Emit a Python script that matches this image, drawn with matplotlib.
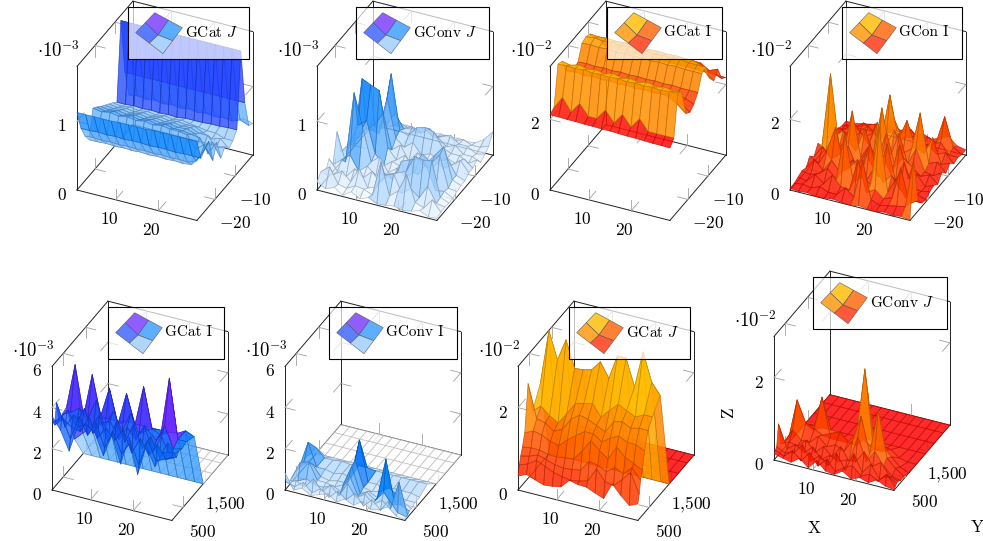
import numpy as np
import matplotlib
matplotlib.use('Agg')
import matplotlib.pyplot as plt
from matplotlib.colors import LinearSegmentedColormap, Normalize
from matplotlib.patches import Polygon, Rectangle
from mpl_toolkits.mplot3d import proj3d

plt.rcParams['font.family'] = ['cmr10', 'DejaVu Serif']
plt.rcParams['mathtext.fontset'] = 'cm'
plt.rcParams['axes.formatter.use_mathtext'] = True

W, H = 983, 541

x_grid = [1, 3, 5, 7, 9, 11, 13, 15, 17, 19, 21, 23, 25, 27, 29]
y_top = [-29, -27, -25, -23, -21, -19, -17, -15, -13, -11, -9, -7, -5, -3, -1]
y_bottom = [0, 60, 120, 200, 300, 450, 650, 1000, 1400, 1800, 2200, 2500]

# top row, rows go front (first) to back (last)
z_cat_j_top = [
    [1.13, 1.13, 1.13, 1.13, 1.13, 1.14, 1.14, 1.14, 1.14, 1.15, 1.15, 1.15, 1.15, 1.15, 1.15],
    [.83, .83, .84, .83, .84, .83, .84, .84, .83, .84, .84, .83, .84, .84, .84],
    [.65, .66, .65, .66, .65, .66, .65, .66, .65, .66, .65, .66, .65, .7, .9],
    [.53, .53, .54, .53, .54, .53, .54, .53, .54, .53, .54, .53, .55, .7, .95],
    [.92, .90, .92, .90, .92, .90, .92, .90, .92, .90, .90, .88, .7, .8, .6],
    [.87, .84, .87, .84, .87, .84, .87, .84, .87, .84, .84, .82, .8, .6, .8],
    [.81, .79, .81, .79, .81, .79, .81, .79, .81, .79, .80, .76, .62, .7, .5],
    [.76, .74, .76, .74, .76, .74, .76, .74, .76, .74, .75, .70, .7, .55, .6],
    [.71, .69, .71, .69, .71, .69, .71, .69, .71, .69, .70, .64, .58, .62, .5],
    [.66, .64, .66, .64, .66, .64, .66, .64, .66, .64, .62, .6, .6, .55, .55],
    [.60, .60, .61, .60, .61, .60, .61, .60, .62, .62, .62, .63, .63, .64, .64],
    [1.72, 1.72, 1.72, 1.72, 1.72, 1.72, 1.72, 1.72, 1.72, 1.72, 1.72, 1.72, 1.72, 1.72, 1.72],
    [.90, .90, .90, .90, .90, .90, .90, .90, .90, .90, .90, .90, .90, .90, .90],
    [.50, .52, .50, .52, .50, .52, .50, .52, .50, .52, .50, .52, .50, .55, .50],
    [.45, .45, .46, .45, .46, .45, .46, .45, .46, .45, .46, .45, .46, .50, .46],
]
z_conv_j_top = [
    [.12, .05, .1, .02, .1, .03, .08, .02, .03, .05, .02, .04, .08, .02, .03],
    [.2, .3, .08, .05, .12, .1, .05, .56, .1, .2, .47, .1, .05, .2, .05],
    [.1, .12, .2, .08, .3, .05, .1, .3, .35, .1, .2, .1, .3, .08, .06],
    [.25, .1, .05, .2, .1, .22, .1, .25, .3, .35, .6, .58, .6, .1, .05],
    [.1, .2, .3, .1, .2, .1, .15, .1, .4, .45, .5, .4, .1, .12, .05],
    [.51, .1, 1.14, .67, .2, .3, .1, .2, .1, .2, .5, .4, .55, .1, .08],
    [.15, .3, .6, .7, .25, .1, .2, .15, .25, .1, .3, .45, .6, .15, .1],
    [.1, .2, 1.21, 1.15, 1.10, .3, .15, .25, .1, .2, .12, .3, .35, .15, .1],
    [.15, .25, .4, .5, .7, .2, .3, .1, .25, .15, .2, .12, .2, .3, .15],
    [.1, .2, .35, .3, .85, .3, .2, .3, .15, .2, .15, .2, .15, .25, .15],
    [.15, .2, .3, .4, 1.14, .35, .3, .45, .48, .45, .25, .2, .2, .12, .2],
    [.1, .15, .2, .3, .5, .3, .35, .3, .4, .3, .2, .25, .15, .15, .1],
    [.1, .12, .15, .2, .3, .25, .2, .3, .2, .25, .3, .2, .2, .12, .15],
    [.05, .1, .12, .15, .15, .2, .15, .2, .15, .2, .15, .2, .15, .15, .2],
    [.05, .08, .1, .1, .12, .1, .15, .1, .12, .1, .12, .1, .12, .2, .34],
]
z_cat_i_top = [
    [2.13, 2.13, 2.12, 2.12, 2.11, 2.11, 2.10, 2.10, 2.09, 2.08, 2.08, 2.07, 2.06, 2.06, 2.05],
    [2.2, 2.55, 2.2, 2.5, 2.2, 2.2, 2.5, 2.2, 2.5, 2.2, 2.5, 2.2, 2.2, 2.2, 2.2],
    [3.3, 3.32, 3.3, 3.33, 3.3, 3.32, 3.3, 3.33, 3.3, 3.32, 3.3, 3.33, 3.3, 3.33, 3.34],
    [3.25, 3.2, 3.27, 3.2, 3.25, 3.2, 3.27, 3.2, 3.25, 3.2, 3.27, 3.2, 3.25, 3.2, 3.22],
    [2.85, 2.9, 2.85, 2.9, 2.85, 2.9, 2.85, 2.9, 2.85, 2.9, 2.85, 2.9, 2.85, 2.7, 2.5],
    [2.7, 2.72, 2.7, 2.72, 2.7, 2.72, 2.7, 2.72, 2.7, 2.72, 2.7, 2.72, 2.7, 2.6, 2.4],
    [2.65, 2.66, 2.65, 2.66, 2.65, 2.66, 2.65, 2.66, 2.65, 2.66, 2.65, 2.66, 2.65, 2.6, 2.5],
    [2.7, 2.72, 2.7, 2.72, 2.7, 2.72, 2.7, 2.72, 2.7, 2.72, 2.7, 2.72, 2.7, 2.7, 2.7],
    [3.1, 3.12, 3.1, 3.12, 3.1, 3.12, 3.1, 3.12, 3.1, 3.12, 3.1, 3.12, 3.1, 3.1, 3.1],
    [3.15, 3.18, 3.15, 3.18, 3.15, 3.18, 3.15, 3.18, 3.15, 3.18, 3.15, 3.18, 3.15, 3.15, 3.15],
    [3.1, 3.08, 3.1, 3.08, 3.1, 3.08, 3.1, 3.08, 3.1, 3.08, 3.1, 3.08, 3.1, 3.0, 2.7],
    [2.85, 2.85, 2.86, 2.85, 2.86, 2.85, 2.86, 2.85, 2.86, 2.85, 2.86, 2.85, 2.8, 2.7, 2.5],
    [2.75, 2.76, 2.75, 2.76, 2.75, 2.76, 2.75, 2.76, 2.75, 2.76, 2.75, 2.76, 2.75, 2.6, 2.7],
    [2.45, 2.45, 2.46, 2.45, 2.46, 2.45, 2.46, 2.45, 2.46, 2.45, 2.46, 2.45, 2.46, 2.4, 2.3],
    [2.2, 2.2, 2.21, 2.2, 2.21, 2.2, 2.21, 2.2, 2.21, 2.2, 2.21, 2.2, 2.21, 2.2, 2.2],
]
z_con_i_top = [
    [.05, .02, .05, .0, .02, .05, .02, .0, .05, .02, .0, .05, .02, .05, .0],
    [.05, .1, .05, .15, .05, .05, .3, .1, 1.2, .15, .05, .1, .15, .2, 1.58],
    [.1, .05, .3, .1, .4, .15, .1, 1.0, .15, .3, .1, .2, 1.1, .15, .3],
    [.15, .1, .2, .4, .15, 1.5, .2, .4, .25, 1.95, .15, .6, .15, .1, .1],
    [.1, .4, .15, .5, .2, .4, .7, .15, .6, .25, .5, .15, .05, .15, .05],
    [.3, .15, .6, 1.3, .2, .5, .15, 1.1, .2, 1.2, .2, .8, .15, .1, .15],
    [.15, .5, .2, .4, .7, .15, .6, .25, .7, .2, 1.1, .2, .4, .1, .2],
    [.4, .2, .7, .3, 1.56, .3, .7, .4, 1.2, .3, .6, .4, .2, .3, .1],
    [.2, 2.3, .3, .5, .3, 1.0, .3, 1.7, .4, 1.1, .3, .8, .2, .15, .3],
    [.3, .4, .6, .4, .7, .4, 1.1, .5, 1.0, .4, .6, 1.67, .3, .4, .15],
    [.2, .5, .4, .7, .4, .6, .5, 1.8, .6, 1.2, .5, .4, .9, .2, .3],
    [.15, .3, .5, .4, .6, .4, .7, 1.0, .5, .6, .4, .5, .3, .4, .15],
    [.15, .2, .3, .5, .3, .5, .4, .6, .4, .5, .3, .4, .5, .2, .2],
    [.1, .15, .2, .3, .4, .3, .4, .3, .5, .3, .4, .3, 1.1, .3, .15],
    [.1, .1, .15, .2, .2, .3, .2, .3, .2, .3, .2, .3, .4, .2, .15],
]

# bottom row
z_cat_i_bot = [
    [3.6, 3.0, 2.1, 3.4, 3.6, 3.3, 2.3, 3.4, 2.1, 3.5, 1.8, 3.3, 2.4, 3.2, 3.3],
    [3.2, 3.6, 2.6, 3.8, 3.0, 3.7, 2.6, 3.5, 2.5, 3.2, 2.2, 3.5, 2.6, 2.8, 3.0],
    [3.0, 3.4, 3.1, 3.0, 3.8, 2.9, 3.5, 3.0, 3.6, 2.6, 3.4, 2.7, 3.3, 2.7, 2.9],
    [4.0, 2.9, 3.6, 3.3, 3.2, 3.9, 2.7, 3.8, 2.9, 3.9, 2.8, 3.5, 2.6, 3.4, 2.8],
    [3.0, 3.6, 3.0, 3.9, 2.8, 3.4, 3.6, 2.8, 3.5, 3.0, 3.8, 2.6, 3.5, 2.6, 3.0],
    [3.1, 3.3, 3.6, 3.2, 4.2, 3.0, 3.9, 3.0, 4.0, 3.1, 3.4, 3.0, 3.8, 2.8, 2.9],
    [3.2, 5.37, 3.0, 5.1, 3.2, 4.65, 3.0, 4.6, 3.2, 5.15, 3.2, 3.0, 5.87, 3.0, 3.0],
    [1.2, 1.6, 2.0, 2.5, 2.6, 2.6, 2.7, 2.7, 2.7, 2.7, 2.7, 2.7, 2.75, 2.98, 2.8],
    [0, 0, 0, 0, 0, 0, 0, 0, 0, 0, 0, 0, 0, 0, 0],
    [0, 0, 0, 0, 0, 0, 0, 0, 0, 0, 0, 0, 0, 0, 0],
    [0, 0, 0, 0, 0, 0, 0, 0, 0, 0, 0, 0, 0, 0, 0],
    [0, 0, 0, 0, 0, 0, 0, 0, 0, 0, 0, 0, 0, 0, 0],
]
z_conv_i_bot = [
    [.85, .1, .3, .05, .2, .35, .05, .3, .1, .4, .1, .2, .45, .1, .05],
    [.3, .2, .5, .1, .4, .1, .5, .2, .6, .1, .5, .1, .7, .2, .1],
    [.2, .4, .2, .7, .2, .6, .2, .9, .3, .6, .2, .5, .2, 1.6, .1],
    [.2, .3, .5, .3, .3, .5, .3, 1.2, .3, .6, .3, .8, .3, .4, .2],
    [.2, 1.07, 1.19, .4, .4, .3, .5, 1.5, .3, .5, .3, 2.28, .3, .4, .2],
    [.3, .8, .9, .4, .3, .4, .4, 1.6, .4, .3, .4, .7, .4, .3, .3],
    [.3, 1.6, .5, .5, .4, .5, .4, 2.34, .4, .4, .3, .4, .4, .4, .3],
    [.4, .9, .5, .5, .55, .5, .55, .55, .5, .5, .5, .5, .5, .5, .5],
    [0, 0, 0, 0, 0, 0, 0, 0, 0, 0, 0, 0, 0, 0, 0],
    [0, 0, 0, 0, 0, 0, 0, 0, 0, 0, 0, 0, 0, 0, 0],
    [0, 0, 0, 0, 0, 0, 0, 0, 0, 0, 0, 0, 0, 0, 0],
    [0, 0, 0, 0, 0, 0, 0, 0, 0, 0, 0, 0, 0, 0, 0],
]
z_cat_j_bot = [
    [.34, .43, .35, .28, .3, .34, .55, .5, .49, .4, .32, .73, .5, .31, .4],
    [.57, .65, .79, .7, .6, .55, .51, .55, .61, .95, .7, .65, .85, 1.08, .6],
    [.75, .8, .88, .82, .75, .72, .74, .78, 1.05, 1.0, .9, 1.05, .95, 1.15, .9],
    [.92, .95, .95, .9, .89, .92, .95, 1.2, 1.5, 1.3, 1.16, 1.5, 1.3, 1.2, 1.1],
    [1.2, 1.3, 1.25, 1.15, 1.1, 1.3, 1.45, 1.6, 1.6, 1.45, 1.6, 1.7, 1.6, 1.6, 1.5],
    [2.3, 1.5, 1.45, 1.3, 1.4, 1.7, 1.85, 1.8, 1.7, 1.6, 1.9, 1.95, 1.85, 1.9, 1.9],
    [1.5, 1.68, 1.5, 1.38, 1.65, 1.95, 2.0, 2.06, 1.78, 2.0, 2.2, 2.1, 2.0, 2.1, 2.1],
    [1.96, 3.29, 2.63, 3.17, 2.53, 2.55, 2.6, 2.85, 2.5, 3.1, 3.1, 2.45, 3.35, 2.67, 2.4],
    [0, 0, 0, 0, 0, 0, 0, 0, 0, 0, 0, 0, 0, 0, 0],
    [0, 0, 0, 0, 0, 0, 0, 0, 0, 0, 0, 0, 0, 0, 0],
    [0, 0, 0, 0, 0, 0, 0, 0, 0, 0, 0, 0, 0, 0, 0],
    [0, 0, 0, 0, 0, 0, 0, 0, 0, 0, 0, 0, 0, 0, 0],
]
z_conv_j_bot = [
    [.15, .1, .05, .2, .02, .25, .05, .02, .15, .02, .1, .03, .15, .05, .02],
    [.2, .1, .3, .1, .35, .08, .3, .05, .2, .3, .1, .2, .08, .3, .05],
    [.25, .15, .2, .45, .1, .3, .1, .45, .1, .55, .15, .4, .1, .2, .1],
    [.75, .2, .35, .2, .4, .15, .3, .2, .3, .3, .6, .3, .45, .15, .1],
    [.2, .3, .25, .45, .2, .4, .2, .5, .2, .85, .3, .6, .3, .1, .05],
    [.15, .5, .3, .3, .5, .3, .4, .3, .6, 1.25, .4, 1.5, .4, .2, .05],
    [.1, 1.1, .6, .5, .4, .5, .58, .4, .7, .5, .4, .5, .3, .1, .02],
    [0, .3, .2, 1.05, .1, .1, .1, .1, 2.0, .1, .1, .2, .05, 0, 0],
    [0, 0, 0, 0, 0, 0, 0, 0, 0, 0, 0, 0, 0, 0, 0],
    [0, 0, 0, 0, 0, 0, 0, 0, 0, 0, 0, 0, 0, 0, 0],
    [0, 0, 0, 0, 0, 0, 0, 0, 0, 0, 0, 0, 0, 0, 0],
    [0, 0, 0, 0, 0, 0, 0, 0, 0, 0, 0, 0, 0, 0, 0],
]

titles = ['GCat $J$', 'GConv $J$', 'GCat I', 'GCon I', 'GCat I', 'GConv I', 'GCat $J$', 'GConv $J$']
surfaces = [z_cat_j_top, z_conv_j_top, z_cat_i_top, z_con_i_top,
            z_cat_i_bot, z_conv_i_bot, z_cat_j_bot, z_conv_j_bot]
exponents = [-3, -3, -2, -2, -3, -3, -2, -2]
z_limits = [1.8, 1.8, 3.5, 3.5, 6, 6, 3, 3]
z_ticks = [[0, 1], [0, 1], [0, 2], [0, 2], [0, 2, 4, 6], [0, 2, 4, 6], [0, 2], [0, 2]]
color_ranges = [(.3, 2.1), (0, 2.6), (2.3, 3.5), (0, 2.5), (0, 6), (0, 3.6), (0, 3.2), (0, 2.6)]

# left-bottom corner of each box and legend box, in picture pixels
corners = [(77, 190), (317, 190), (550, 190), (790, 190), (52, 490), (285, 490), (518, 490), (774, 460)]
legend_boxes = [(128, 7, 249, 59), (356, 7, 489, 59), (607, 7, 722, 59), (842, 7, 962, 59),
                (108, 307, 224, 359), (329, 307, 457, 359), (569, 307, 690, 359), (813, 277, 947, 329)]

blues = LinearSegmentedColormap.from_list('blues3d', [(0, (1, 1, 1)), (.45, (0, .5, 1)), (.65, (.12, .25, 1)),
                                                      (.85, (.45, .1, 1)), (1, (.5, .1, 1))])
oranges = LinearSegmentedColormap.from_list('oranges3d', [(0, (1, .03, .03)), (.25, (1, .22, 0)), (.5, (1, .45, 0)),
                                                          (.75, (1, .65, 0)), (1, (1, .8, 0))])
blue_icon = ['#8a55ff', '#5577ff', '#55aaff', '#aad4ff']
orange_icon = ['#ffc525', '#ffa52a', '#ff7a2a', '#ff5030']


def to_px(ax, x, y, z):
    px, py, _ = proj3d.proj_transform(x, y, z, ax.get_proj())
    sx, sy = ax.transData.transform((px, py))
    return sx, H - sy


def place_axes(ax, corner, xlim, ylim):
    # size the 3d axes so the x edge has the right length, then move it onto the corner
    size = 400
    ax.set_position([0, 0, size / W, size / H])
    p0 = to_px(ax, xlim[0], ylim[0], ax.get_zlim()[0])
    p1 = to_px(ax, xlim[1], ylim[0], ax.get_zlim()[0])
    size = size * 123.7 / np.hypot(p1[0] - p0[0], p1[1] - p0[1])
    ax.set_position([0, 0, size / W, size / H])
    p0 = to_px(ax, xlim[0], ylim[0], ax.get_zlim()[0])
    ax.set_position([(corner[0] - p0[0]) / W, (p0[1] - corner[1]) / H, size / W, size / H])


def draw_box(ax, xlim, ylim, zlim):
    x0, x1 = xlim
    y0, y1 = ylim
    z0, z1 = zlim
    edges = [((x0, x1), (y0, y0), (z0, z0)), ((x0, x1), (y1, y1), (z0, z0)), ((x0, x1), (y1, y1), (z1, z1)),
             ((x0, x0), (y0, y1), (z0, z0)), ((x1, x1), (y0, y1), (z0, z0)), ((x0, x0), (y0, y1), (z1, z1)),
             ((x0, x0), (y0, y0), (z0, z1)), ((x0, x0), (y1, y1), (z0, z1)), ((x1, x1), (y1, y1), (z0, z1))]
    for e in edges:
        ax.plot(*e, color='#222222', lw=.7, zorder=1, clip_on=False)


def draw_ticks(ax, xlim, ylim, zlim, xticks, yticks, zticks):
    x0, x1 = xlim
    y0, y1 = ylim
    z0, z1 = zlim
    dx = .085 * (x1 - x0)
    dy = .13 * (y1 - y0)
    dz = .09 * (z1 - z0)

    def tick(x, y, z, ox, oy, oz):
        ax.plot((x, x + ox), (y, y + oy), (z, z + oz), color='#a0a0a0', lw=.6, zorder=1, clip_on=False)

    for t in xticks:
        for y, z, sy, sz in [(y0, z0, 1, 1), (y1, z0, -1, 1), (y1, z1, -1, -1)]:
            tick(t, y, z, 0, sy * dy, 0)
            tick(t, y, z, 0, 0, sz * dz)
    for t in yticks:
        for x, z, sx, sz in [(x0, z0, 1, 1), (x1, z0, -1, 1), (x0, z1, 1, -1)]:
            tick(x, t, z, sx * dx, 0, 0)
            tick(x, t, z, 0, 0, sz * dz)
    for t in zticks:
        if t in (z0, z1):
            continue
        for x, y, sx, sy in [(x0, y0, 1, 1), (x0, y1, 1, -1), (x1, y1, -1, -1)]:
            tick(x, y, t, sx * dx, 0, 0)
            tick(x, y, t, 0, sy * dy, 0)


fig = plt.figure(figsize=(W / 100, H / 100), dpi=100)
overlay = fig.add_axes([0, 0, 1, 1], zorder=10)
overlay.set_xlim(0, W)
overlay.set_ylim(H, 0)
overlay.axis('off')
overlay.patch.set_alpha(0)

tick_size = 12.5
legend_size = 11

for i in range(8):
    top = i < 4
    y_vals = y_top if top else y_bottom
    xlim = (x_grid[0], x_grid[-1])
    ylim = (y_vals[0], y_vals[-1])
    zlim = (0, z_limits[i])
    cmap = blues if i in (0, 1, 4, 5) else oranges
    alpha = .76 if cmap is blues else .86

    ax = fig.add_axes([0, 0, .4, .4], projection='3d', proj_type='ortho', computed_zorder=False)
    ax.patch.set_visible(False)
    ax.view_init(elev=33, azim=-65)
    ax.set_box_aspect((132, 132, 147), zoom=.4)
    ax.set_xlim(*xlim, view_margin=0)
    ax.set_ylim(*ylim, view_margin=0)
    ax.set_zlim(*zlim, view_margin=0)
    ax.set_axis_off()
    place_axes(ax, corners[i], xlim, ylim)

    Z = np.array(surfaces[i], dtype=float)
    X, Y = np.meshgrid(x_grid, y_vals)
    # colour of a cell leans towards its highest corner, spikes look too dull with the plain mean
    corners_z = np.stack([Z[:-1, :-1], Z[1:, :-1], Z[:-1, 1:], Z[1:, 1:]])
    cell = (corners_z.mean(axis=0) + corners_z.max(axis=0)) / 2
    face = cmap(Normalize(*color_ranges[i], clip=True)(cell))
    face[..., 3] = alpha
    edge = face.copy()
    edge[..., :3] *= .72
    edge[..., 3] = .8

    draw_box(ax, xlim, ylim, zlim)
    yticks = [-20, -10] if top else [500, 1500]
    draw_ticks(ax, xlim, ylim, zlim, [10, 20], yticks, z_ticks[i])
    surf = ax.plot_surface(X, Y, Z, facecolors=face, rstride=1, cstride=1, shade=False, linewidth=.5, zorder=2)
    surf.set_edgecolor(edge.reshape(-1, 4))
    surf.set_clip_on(False)

    # tick labels
    for t in [10, 20]:
        px, py = to_px(ax, t, ylim[0], 0)
        overlay.text(px - 6.7, py + 19, f'${t}$', ha='center', va='center', fontsize=tick_size)
    for t in yticks:
        px, py = to_px(ax, xlim[1], t, 0)
        label = f'${t}$' if t != 1500 else '$1{,}500$'
        overlay.text(px + 20, py + 24, label, ha='center', va='center', fontsize=tick_size)
    for t in z_ticks[i]:
        px, py = to_px(ax, xlim[0], ylim[0], t)
        overlay.text(px - 15, py + 5, f'${t}$', ha='center', va='center', fontsize=tick_size)
    px, py = to_px(ax, xlim[0], ylim[0], zlim[1])
    overlay.text(px - 19, py - 16, r'$\cdot 10^{%d}$' % exponents[i], ha='center', va='center', fontsize=tick_size + 1)

    # legend box with the little surface icon
    lx0, ly0, lx1, ly1 = legend_boxes[i]
    overlay.add_patch(Rectangle((lx0, ly0), lx1 - lx0, ly1 - ly0, fc=(1, 1, 1, .7), ec='black', lw=.8))
    cx, cy = lx0 + 30, ly0 + 28
    top_p = (lx0 + 26.7, ly0 + 5.7)
    left_p = (lx0 + 7.7, ly0 + 25.7)
    right_p = (lx0 + 54.3, ly0 + 20.7)
    bot_p = (lx0 + 35, ly0 + 46.7)
    mid = lambda a, b: ((a[0] + b[0]) / 2, (a[1] + b[1]) / 2)
    tl, tr, bl, br = mid(top_p, left_p), mid(top_p, right_p), mid(left_p, bot_p), mid(right_p, bot_p)
    icon = blue_icon if cmap is blues else orange_icon
    icon_quads = [[top_p, tr, (cx, cy), tl], [tl, (cx, cy), bl, left_p],
                  [tr, right_p, br, (cx, cy)], [(cx, cy), br, bot_p, bl]]
    for quad, col in zip(icon_quads, icon):
        overlay.add_patch(Polygon(quad, closed=True, fc=col, ec='#555555', lw=.4, alpha=.95))
    overlay.text(lx0 + 57, (ly0 + ly1) / 2 - .5, titles[i], ha='left', va='center', fontsize=legend_size)

overlay.text(814, 528, 'X', ha='center', va='center', fontsize=tick_size)
overlay.text(977, 527, 'Y', ha='center', va='center', fontsize=tick_size)
overlay.text(728, 413, 'Z', ha='center', va='center', rotation=90, fontsize=tick_size)

fig.savefig('out.png', dpi=100)
